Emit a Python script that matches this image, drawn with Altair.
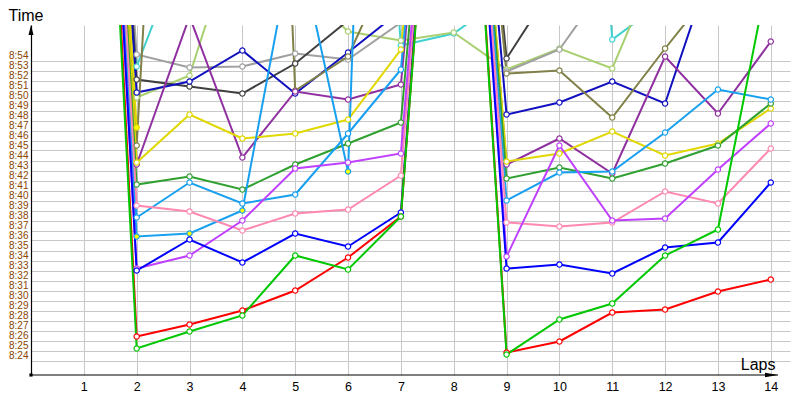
import altair as alt
import pandas as pd

laps = list(range(1, 15))

# clock time at the end of each lap, in minutes past 8:00
# (anything above ~57.5 runs off the top of the chart)
red = [131, 26.4, 27.6, 29.0, 31.0, 34.3, 38.4, 108, 24.8, 25.9, 28.8, 29.1, 30.9, 32.1]
lime = [128, 25.2, 26.9, 28.5, 34.5, 33.1, 38.4, 107, 24.6, 28.1, 29.7, 34.5, 37.1, 63.8]
blue = [130, 33.0, 36.1, 33.8, 36.7, 35.4, 38.8, 109, 33.2, 33.6, 32.7, 35.3, 35.8, 41.8]
violet = [129, 33.2, 34.5, 38.0, 43.2, 43.8, 44.7, 108, 34.4, 45.5, 38.0, 38.2, 43.1, 47.7]
pink = [130, 39.5, 38.9, 37.0, 38.7, 39.1, 42.5, 108, 37.8, 37.4, 37.8, 40.9, 39.7, 45.2]
sky = [130, 38.3, 41.8, 39.7, 40.6, 46.7, 53.1, 108, 40.0, 42.8, 42.9, 46.8, 51.1, 50.1]
sky_y = [130, 36.4, 36.7, 39.0, 67.0, 42.9, 190, None, None, None, None, None, None, None]
green = [130, 41.6, 42.4, 41.1, 43.6, 45.7, 47.8, 108, 42.2, 43.3, 42.2, 43.7, 45.5, 49.7]
yellow = [130, 43.8, 48.6, 46.2, 46.7, 48.1, 55.1, 108, 43.9, 44.7, 46.9, 44.5, 45.7, 49.2]
yellow_f = [130, 47.3, None, None, None, None, None, None, None, None, None, None, None, None]
purple = [130, 43.6, 58.4, 44.3, 50.9, 50.1, 51.6, 108, 43.6, 46.2, 42.7, 54.4, 48.7, 55.9]
olive = [132, 45.5, 140, 175, 51.0, 54.4, 66, 108, 52.7, 53.0, 48.3, 55.2, 61.8, 66]
navy = [130, 50.8, 51.9, 55.0, 50.7, 54.8, 59, 108, 48.6, 49.8, 51.9, 49.7, 65.4, 70]
charcoal = [130, 52.1, 51.4, 50.7, 53.7, 58, 62, 108, 54.2, 62.4, 66, 68, 70, 72]
grey = [130, 54.6, 53.3, 53.4, 54.7, 54.1, 57.8, 108, 52.9, 55.1, 62.5, 66, 68, 70]
pale = [130, 50.3, 52.5, 69, 62, 56.9, 56.0, 56.8, 53.1, 55.2, 53.2, 65.7, 70, 72]
cyan = [130, 53.4, 67.2, 70, 72, 130, 55.5, 56.7, 60.5, 130, 56.1, 60, 65, 68]

# name, line colour, marker fill, values (draw order: first drawn at the back)
series = [
    ("a_cyan", "#40d0d0", "white", cyan),
    ("b_pale", "#a8d070", "white", pale),
    ("c_grey", "#a0a0a0", "white", grey),
    ("d_charcoal", "#404040", "white", charcoal),
    ("e_navy", "#1010c0", "white", navy),
    ("f_olive", "#808048", "white", olive),
    ("g_purple", "#9030a0", "white", purple),
    ("h_yellow_f", "#e0d800", "#ffff00", yellow_f),
    ("i_yellow", "#e0d800", "white", yellow),
    ("j_green", "#30a030", "white", green),
    ("k_sky_y", "#18a0f0", "#ffff00", sky_y),
    ("l_sky", "#18a0f0", "white", sky),
    ("m_pink", "#ff88b0", "white", pink),
    ("n_violet", "#c040ff", "white", violet),
    ("o_blue", "#0000ff", "white", blue),
    ("p_red", "#ff0000", "white", red),
    ("q_lime", "#00c800", "white", lime),
]

rows = []
for name, colour, fill, values in series:
    for lap, v in zip(laps, values):
        if v is not None:
            rows.append({"car": name, "lap": lap, "clock": v, "marker": fill})
df = pd.DataFrame(rows)

names = [s[0] for s in series]
colours = [s[1] for s in series]
car_scale = alt.Scale(domain=names, range=colours)

x = alt.X(
    "lap:Q",
    scale=alt.Scale(domain=[0, 14.364], nice=False, zero=False),
    axis=alt.Axis(
        values=laps, grid=True, ticks=False, domain=False, labelFlush=False,
        labelOverlap=False,
        labelFont="Liberation Sans", labelFontSize=12.5, labelColor="black", labelPadding=5,
        title="Laps", titleFont="Liberation Sans", titleFontSize=16, titleFontWeight="normal",
        titleColor="black", titleAlign="right", titleBaseline="alphabetic",
        titleAnchor="start", titleX=744, titleY=-5.5,
    ),
)
y = alt.Y(
    "clock:Q",
    scale=alt.Scale(domain=[22.55, 57.55], nice=False, zero=False),
    axis=alt.Axis(
        values=list(range(24, 55)), labelExpr="'8:' + datum.value",
        grid=True, ticks=False, domain=True, domainColor="black", domainWidth=1.2,
        labelFlush=False, labelOverlap=False,
        labelFont="Liberation Sans", labelFontSize=10,
        labelColor="#8a4500", labelBaseline="bottom", labelPadding=3,
        title="Time", titleFont="Liberation Sans", titleFontSize=16, titleFontWeight="normal",
        titleColor="black", titleAngle=0, titleAlign="left", titleBaseline="alphabetic",
        titleAnchor="start", titleX=-23, titleY=-4.3,
    ),
)

lines = alt.Chart(df).mark_line(strokeWidth=2, clip=True).encode(
    x, y, color=alt.Color("car:N", scale=car_scale, legend=None)
)
points = alt.Chart(df).mark_point(
    shape="circle", filled=True, size=28, strokeWidth=1.2, opacity=1, clip=True
).encode(
    x, y,
    stroke=alt.Stroke("car:N", scale=car_scale, legend=None),
    fill=alt.Fill("marker:N", scale=None),
)

one = pd.DataFrame({"k": [0]})
x_line = alt.Chart(one).mark_rule(color="black", strokeWidth=1.2).encode(
    x=alt.value(-1), x2=alt.value(747), y=alt.value(350)
)
x_arrow = alt.Chart(one).mark_point(
    shape="M-1,-0.35L1,0L-1,0.35Z", filled=True, color="black", size=169, opacity=1
).encode(x=alt.value(740.5), y=alt.value(350))
y_arrow = alt.Chart(one).mark_point(
    shape="M0,-1L0.5,1L-0.5,1Z", filled=True, color="black", size=100, opacity=1
).encode(x=alt.value(0), y=alt.value(5))
origin = alt.Chart(one).mark_square(color="black", size=10, opacity=1).encode(
    x=alt.value(0), y=alt.value(350)
)

chart = (
    alt.layer(lines, points, x_line, x_arrow, y_arrow, origin)
    .properties(
        width=759, height=350,
        autosize=alt.AutoSizeParams(type="none"),
        padding={"left": 23, "top": 17, "right": 1, "bottom": 24},
        background="white",
    )
    .configure_view(stroke=None)
    .configure_axis(gridColor="#c8c8c8", gridWidth=1)
)

chart.save("out.html", embed_options={"renderer": "svg", "actions": False})
